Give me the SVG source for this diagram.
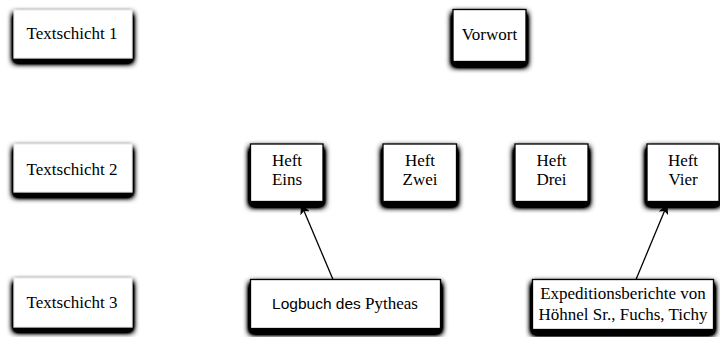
<svg xmlns="http://www.w3.org/2000/svg" width="720" height="337" viewBox="0 0 720 337">
<defs>
<filter id="sh" x="-20%" y="-30%" width="140%" height="170%">
<feGaussianBlur in="SourceAlpha" stdDeviation="3" result="b"/>
<feOffset in="b" dx="0" dy="4" result="o"/>
<feComponentTransfer in="o" result="c"><feFuncA type="linear" slope="3"/></feComponentTransfer>
<feMerge><feMergeNode in="c"/><feMergeNode in="SourceGraphic"/></feMerge>
</filter>
<marker id="ah" viewBox="0 0 10 10" refX="9" refY="5" markerWidth="10" markerHeight="10" markerUnits="userSpaceOnUse" orient="auto">
<path d="M0,0 L10,5 L0,10 L2.5,5 z" fill="#000"/>
</marker>
</defs>
<style>
.lb{fill:#fff;stroke:#e0e0e0;stroke-width:0.8}
.nb{fill:#fff;stroke:#000;stroke-width:1.3}
text{font-family:"Liberation Serif","Times New Roman",serif;font-size:17px;fill:#000;text-anchor:middle}
.sans{font-family:"Liberation Sans",Arial,sans-serif;font-size:15.5px}
.cn{stroke:#000;stroke-width:1.3;fill:none;marker-end:url(#ah)}
</style>
<rect width="720" height="337" fill="#fff"/>
<g id="textschicht1"><rect class="lb" x="14" y="10" width="118" height="48" filter="url(#sh)"/><text x="72" y="39">Textschicht 1</text></g>
<g id="textschicht2"><rect class="lb" x="14" y="144" width="118" height="48" filter="url(#sh)"/><text x="72" y="175">Textschicht 2</text></g>
<g id="textschicht3"><rect class="lb" x="14" y="278" width="118" height="49" filter="url(#sh)"/><text x="72" y="308">Textschicht 3</text></g>
<g id="vorwort"><rect class="nb" x="453" y="9.5" width="73" height="52" filter="url(#sh)"/><text x="489.5" y="40">Vorwort</text></g>
<g id="heft-eins"><rect class="nb" x="250.5" y="144" width="72.5" height="57.5" filter="url(#sh)"/><text x="287" y="166">Heft</text><text x="287" y="185">Eins</text></g>
<g id="heft-zwei"><rect class="nb" x="383" y="144" width="73.5" height="57.5" filter="url(#sh)"/><text x="420" y="166">Heft</text><text x="420" y="185">Zwei</text></g>
<g id="heft-drei"><rect class="nb" x="515" y="144" width="73" height="57.5" filter="url(#sh)"/><text x="551.5" y="166">Heft</text><text x="551.5" y="185">Drei</text></g>
<g id="heft-vier"><rect class="nb" x="647" y="144" width="72" height="57.5" filter="url(#sh)"/><text x="683" y="166">Heft</text><text x="683" y="185">Vier</text></g>
<g id="logbuch"><rect class="nb" x="250.5" y="279.5" width="190" height="49" filter="url(#sh)"/><text x="345" y="309"><tspan class="sans">Logbuch des</tspan> Pytheas</text></g>
<g id="expedition"><rect class="nb" x="532.5" y="279.5" width="181" height="50" filter="url(#sh)"/><text x="623" y="299">Expeditionsberichte von</text><text x="623" y="320">Höhnel Sr., Fuchs, Tichy</text></g>
<g id="connectors">
<line class="cn" x1="333" y1="279.5" x2="301.5" y2="205"/>
<line class="cn" x1="636" y1="279.5" x2="667" y2="205"/>
</g>
</svg>
